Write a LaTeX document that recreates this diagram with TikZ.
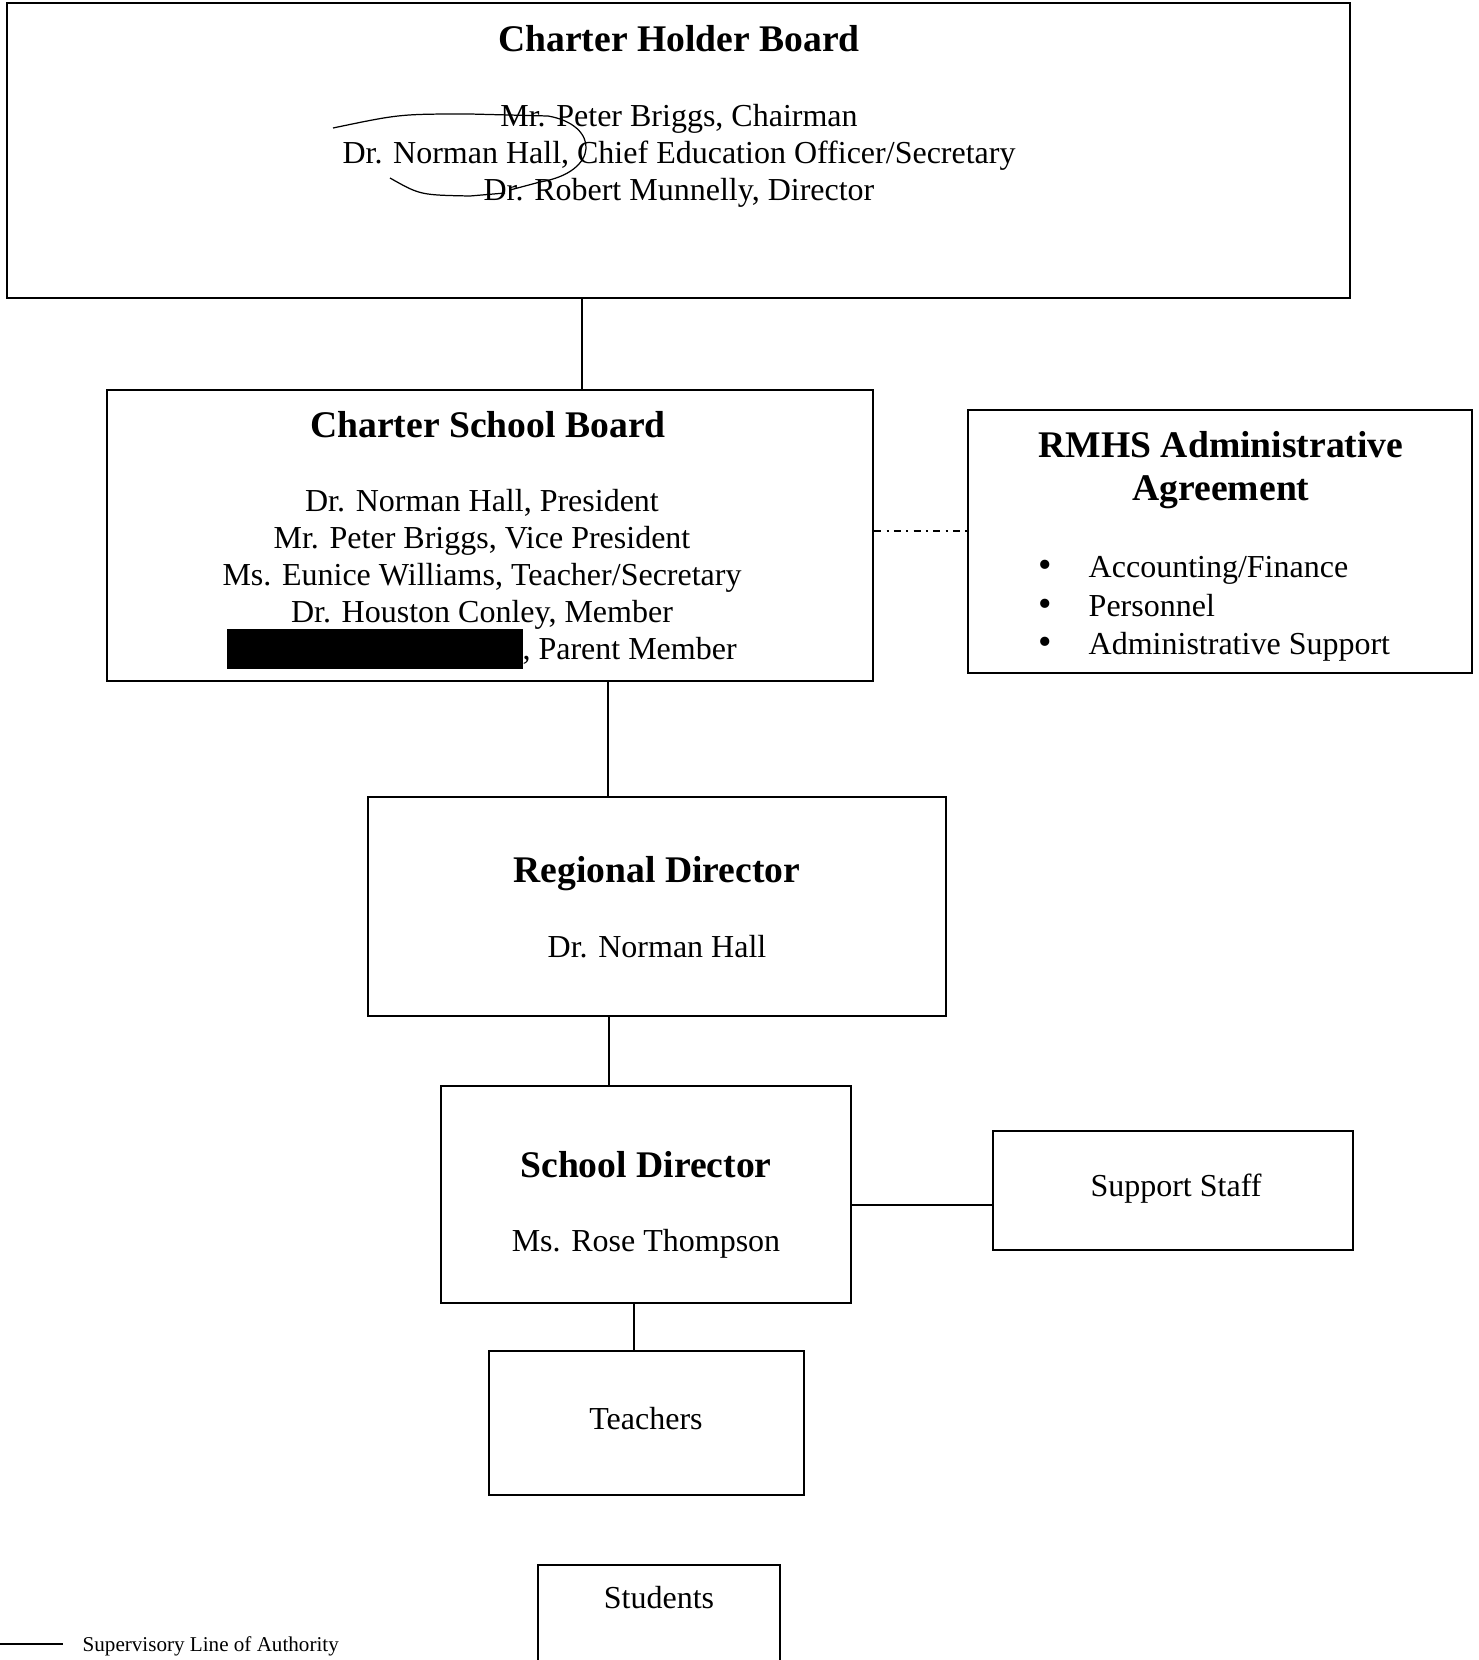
\documentclass[tikz,border=0pt]{standalone}
\usepackage{fontspec}
\setmainfont{Liberation Serif}
\newcommand{\bodysize}{\fontsize{9.1}{10.5}\selectfont}
\newcommand{\titlesize}{\fontsize{10.7}{12.3}\selectfont\bfseries}

\begin{document}
\begin{tikzpicture}[x=0.01cm, y=-0.01cm,
  box/.style={draw, line width=0.6pt, inner sep=0pt},
  title/.style={font=\titlesize, align=center, inner sep=0pt},
  body/.style={font=\bodysize, align=center, inner sep=0pt},
  link/.style={line width=0.6pt}]
\useasboundingbox (0,0) rectangle (1479,1660);
% boxes
\node[box, minimum width=13.43cm, minimum height=2.95cm] (holder) at (678.5,150.5) {};
\node[box, minimum width=7.66cm, minimum height=2.91cm] (csboard) at (490,535.5) {};
\node[box, minimum width=5.04cm, minimum height=2.63cm] (rmhs) at (1220,541.5) {};
\node[box, minimum width=5.78cm, minimum height=2.19cm] (regional) at (657,906.5) {};
\node[box, minimum width=4.10cm, minimum height=2.17cm] (schooldir) at (646,1194.5) {};
\node[box, minimum width=3.60cm, minimum height=1.19cm] (support) at (1173,1190.5) {};
\node[box, minimum width=3.15cm, minimum height=1.44cm] (teachers) at (646.5,1423) {};
\node[minimum width=2.40cm, minimum height=0.94cm, inner sep=0pt] (students) at (659,1613) {};
\draw[line width=0.6pt] (students.south west) |- (students.north east) -- (students.south east);
% texts
\node[title] (holdertitle) at (679,39) {Charter Holder Board};
\node[body] (holdernames) at (679,156) {Mr. Peter Briggs, Chairman\\
  Dr. Norman Hall, Chief Education Officer/Secretary\\
  Dr. Robert Munnelly, Director};
\node[title] (cstitle) at (488,425) {Charter School Board};
\node[body] (csnames) at (482,577) {Dr. Norman Hall, President\\
  Mr. Peter Briggs, Vice President\\
  Ms. Eunice Williams, Teacher/Secretary\\
  Dr. Houston Conley, Member\\
  \smash{\rule[-0.09cm]{2.95cm}{0.39cm}}, Parent Member};
\node[title] (rmhstitle) at (1221,470) {RMHS Administrative\\Agreement};
\node[body, align=left, anchor=west, font=\fontsize{9.1}{11}\selectfont] (rmhsitems) at (1038,609) {%
  \makebox[0.5cm][l]{\scalebox{1.2}{\textbullet}}Accounting/Finance\\
  \makebox[0.5cm][l]{\scalebox{1.2}{\textbullet}}Personnel\\
  \makebox[0.5cm][l]{\scalebox{1.2}{\textbullet}}Administrative Support};
\node[title] (regtitle) at (657,874) {Regional Director};
\node[body] (regname) at (657,947) {Dr. Norman Hall};
\node[title] (sdtitle) at (646,1165) {School Director};
\node[body] (sdname) at (646,1244) {Ms. Rose Thompson};
\node[body] (supporttext) at (1176,1189) {Support Staff};
\node[body] (teacherstext) at (646,1419) {Teachers};
\node[body] (studentstext) at (659,1598) {Students};
% connectors
\coordinate (x1) at (582,0);
\coordinate (x2) at (608,0);
\coordinate (x3) at (609,0);
\coordinate (x4) at (634,0);
\coordinate (y1) at (0,531);
\coordinate (y2) at (0,1205);
\draw[link] (holder.south -| x1) -- (csboard.north -| x1);
\draw[link] (csboard.south -| x2) -- (regional.north -| x2);
\draw[link] (regional.south -| x3) -- (schooldir.north -| x3);
\draw[link] (schooldir.south -| x4) -- (teachers.north -| x4);
\draw[link] (schooldir.east |- y2) -- (support.west |- y2);
\draw[line width=0.5pt, dash pattern=on 2pt off 1.5pt on 0.6pt off 1.5pt] (csboard.east |- y1) -- (rmhs.west |- y1);
% pen marks over the holder names
\draw[line width=0.35pt] (333,128) .. controls (400,114) .. (470,114) -- (548,116)
  .. controls (600,125) and (600,172) .. (540,182) -- (510,190);
\draw[line width=0.35pt] (390,178) .. controls (420,195) .. (470,196) -- (505,193);
% legend
\coordinate (legA) at (0,1644);
\coordinate (legB) at (63,1644);
\draw[line width=0.8pt] (legA) -- (legB);
\node[anchor=west, inner sep=0pt, font=\fontsize{6}{7}\selectfont] (legtext) at (82,1646) {Supervisory Line of Authority};
\end{tikzpicture}
\end{document}
